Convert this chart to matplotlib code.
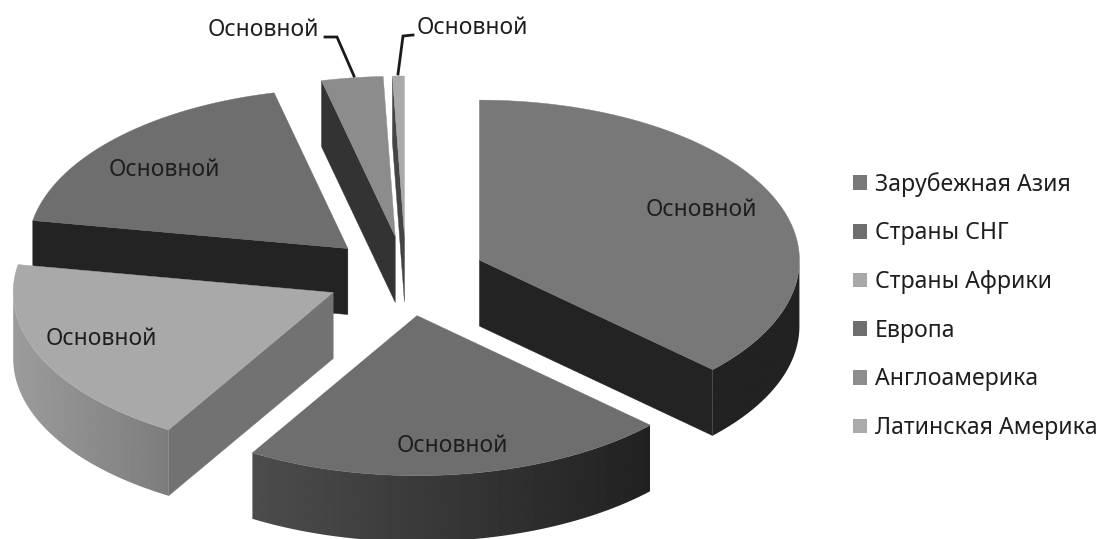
import matplotlib
matplotlib.use('Agg')
import matplotlib.pyplot as plt
import numpy as np
from matplotlib.patches import Patch, Polygon

plt.rcParams['font.family'] = ['Noto Sans', 'DejaVu Sans']

categories = ['Зарубежная Азия', 'Страны СНГ', 'Страны Африки', 'Европа', 'Англоамерика', 'Латинская Америка']
shares = [37.0, 21.6, 19.2, 18.5, 3.1, 0.6]
labels = ['Основной'] * 6

# greys: top face, radial face, outer wall at left and right end
top_colors = ['#787878', '#6e6e6e', '#a9a9a9', '#6e6e6e', '#8c8c8c', '#aaaaaa']
face_colors = ['#232323', '#232323', '#727272', '#232323', '#333333', '#444444']
wall_left = [0.135, 0.30, 0.61, 0.135, 0.2, 0.27]
wall_right = [0.135, 0.13, 0.49, 0.135, 0.2, 0.27]

# pie layout in pixels
cx, cy = 406, 276
rx, ry = 320, 160
depth = 66
explode = 0.25

label_pos = [(701, 210), (452, 446), (101, 339), (164, 170)]


def rim(t, ox, oy):
    # t in degrees, clockwise from 12 o'clock
    t = np.radians(t)
    return ox + rx * np.sin(t), oy - ry * np.cos(t)


fig = plt.figure(figsize=(11, 5.39), dpi=100)
ax = fig.add_axes([0, 0, 1, 1])

edges = np.concatenate([[0], np.cumsum(shares)]) / np.sum(shares) * 360
slices = []
for i in range(len(shares)):
    t0, t1 = edges[i], edges[i + 1]
    mid = (t0 + t1) / 2
    ox = cx + explode * rx * np.sin(np.radians(mid))
    oy = cy - explode * ry * np.cos(np.radians(mid))
    slices.append((oy, i, t0, t1, mid, ox))

# back to front
for z, (oy, i, t0, t1, mid, ox) in enumerate(sorted(slices)):
    mx, my = rim(mid, ox, oy)
    for t in (t0, t1):
        ex, ey = rim(t, ox, oy)
        # radial face shows only when the slice lies above that edge
        if abs(ex - ox) > 1:
            line_y = oy + (ey - oy) * (mx - ox) / (ex - ox)
            if my < line_y:
                ax.fill([ox, ex, ex, ox], [oy, ey, ey + depth, oy + depth],
                        color=face_colors[i], lw=0.3, zorder=z * 3 + 1)
    # outer wall, only the part turned to the viewer
    a0, a1 = max(t0, 90), min(t1, 270)
    if a1 > a0:
        tt = np.linspace(a0, a1, 60)
        xs, ys = rim(tt, ox, oy)
        wall = np.c_[np.r_[xs, xs[::-1]], np.r_[ys, ys[::-1] + depth]]
        grad = np.linspace(wall_left[i], wall_right[i], 256).reshape(1, -1)
        im = ax.imshow(grad, cmap='gray', vmin=0, vmax=1, aspect='auto', zorder=z * 3 + 2,
                       extent=(xs.min(), xs.max(), ys.max() + depth, ys.min()))
        clip = Polygon(wall, transform=ax.transData, fill=False, lw=0)
        ax.add_patch(clip)
        im.set_clip_path(clip)
    tt = np.linspace(t0, t1, 80)
    xs, ys = rim(tt, ox, oy)
    ax.fill(np.r_[ox, xs], np.r_[oy, ys], color=top_colors[i], lw=0.3, zorder=z * 3 + 3)

ax.set_xlim(0, 1100)
ax.set_ylim(539, 0)
ax.axis('off')

text_color = '#1e1e1e'
for (x, y), s in zip(label_pos, labels):
    ax.text(x, y, s, fontsize=16.5, color=text_color, ha='center', va='center', zorder=50)

# leader lines for the two thin slices
ax.plot([354, 337, 325], [76, 37, 37], color='#1a1a1a', lw=2, zorder=50, solid_joinstyle='miter')
ax.plot([398, 403, 413], [74, 36, 35], color='#1a1a1a', lw=2, zorder=50, solid_joinstyle='miter')
ax.text(319, 30, labels[4], fontsize=16.5, color=text_color, ha='right', va='center', zorder=50)
ax.text(417, 28, labels[5], fontsize=16.5, color=text_color, ha='left', va='center', zorder=50)

handles = [Patch(facecolor=c, edgecolor='none') for c in top_colors]
leg = ax.legend(handles, categories, loc='upper left', bbox_to_anchor=(0.7755, 0.681),
                frameon=False, fontsize=16.6, labelcolor=text_color, labelspacing=1.07,
                handlelength=0.61, handleheight=0.61, handletextpad=0.35,
                borderpad=0, borderaxespad=0)

fig.savefig('out.png', dpi=100)
